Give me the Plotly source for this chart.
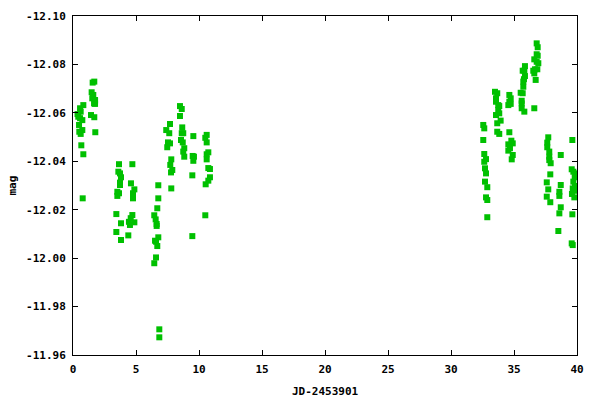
import plotly.graph_objects as go

# JD-2453901 values and magnitudes
jd = [
    0.82, 0.56, 0.61, 0.42, 0.56, 0.74, 0.50, 0.74, 0.61, 0.66, 0.82, 0.77, 0.36, 0.48,
    1.69, 1.56, 1.48, 1.61, 1.53, 1.75, 1.67, 1.75, 1.43, 1.69, 1.77, 1.59, 1.75,
    3.65, 4.71, 3.60, 3.73, 3.81, 3.73, 3.73, 4.60, 4.87, 3.52, 3.65, 3.52, 4.76, 4.76,
    3.44, 4.71, 4.58, 4.44, 4.87, 4.52, 3.81, 3.44, 4.39, 3.81,
    6.85, 6.85, 6.59, 6.45, 6.59, 6.69, 6.51, 6.77, 6.45, 6.56, 6.64, 6.64, 6.69, 6.77, 6.77,
    7.70, 7.40, 7.64, 7.54, 7.70, 7.48, 7.80, 7.72, 7.88, 7.78, 7.80,
    8.49, 8.63, 8.49, 8.67, 8.63, 8.75, 8.57, 8.71, 8.83, 8.75, 8.83,
    9.55, 9.50, 9.60, 9.55, 9.47, 9.47,
    10.61, 10.50, 10.61, 10.74, 10.61, 10.61, 10.74, 10.87, 10.87, 10.74, 10.53, 10.50,
    32.56, 32.64, 32.56, 32.64, 32.78, 32.64, 32.70, 32.78, 32.70, 32.88, 32.78, 32.88, 32.88,
    33.49, 33.67, 33.57, 33.57, 33.75, 33.83, 33.75, 33.57, 33.83, 33.94, 33.67, 33.67, 33.83,
    34.63, 34.74, 34.63, 34.55, 34.74, 34.63, 34.79, 34.90, 34.55, 34.68, 34.55, 34.90, 34.82,
    35.74, 35.74, 35.53, 35.69, 35.61, 35.61, 35.61, 35.82, 35.87, 35.82, 35.69, 35.87, 35.79,
    36.80, 36.88, 36.80, 36.88, 36.61, 36.80, 36.93, 36.67, 36.85, 36.53, 36.61, 36.72, 36.61,
    37.72, 37.64, 37.64, 37.80, 37.80, 37.80, 37.91, 37.88, 37.60, 37.72, 37.60, 37.88,
    38.71, 38.71, 38.60, 38.60, 38.71, 38.60, 38.52,
    39.63, 39.58, 39.71, 39.87, 39.82, 39.71, 39.84, 39.66, 39.79, 39.60, 39.79, 39.63, 39.58, 39.66,
]
mag = [
    -12.0632, -12.0619, -12.0605, -12.0584, -12.0578, -12.0570, -12.0522, -12.0529, -12.0513, -12.0466, -12.0429, -12.0247, -12.0595, -12.0550,
    -12.0729, -12.0725, -12.0685, -12.0674, -12.0660, -12.0653, -12.0639, -12.0637, -12.0591, -12.0582, -12.0520, -12.0665, -12.0649,
    -12.0388, -12.0388, -12.0357, -12.0350, -12.0334, -12.0312, -12.0302, -12.0309, -12.0284, -12.0274, -12.0268, -12.0257, -12.0268, -12.0247,
    -12.0182, -12.0178, -12.0165, -12.0150, -12.0148, -12.0137, -12.0144, -12.0108, -12.0094, -12.0075,
    -11.9706, -11.9673, -12.0003, -11.9979, -12.0068, -12.0050, -12.0072, -12.0086, -12.0177, -12.0160, -12.0141, -12.0133, -12.0206, -12.0247, -12.0301,
    -12.0554, -12.0529, -12.0516, -12.0478, -12.0474, -12.0458, -12.0408, -12.0385, -12.0364, -12.0354, -12.0288,
    -12.0628, -12.0616, -12.0587, -12.0540, -12.0516, -12.0516, -12.0488, -12.0478, -12.0454, -12.0440, -12.0419,
    -12.0504, -12.0422, -12.0419, -12.0402, -12.0342, -12.0091,
    -12.0509, -12.0497, -12.0478, -12.0437, -12.0429, -12.0408, -12.0372, -12.0368, -12.0334, -12.0320, -12.0305, -12.0177,
    -12.0550, -12.0536, -12.0488, -12.0430, -12.0409, -12.0398, -12.0371, -12.0350, -12.0316, -12.0293, -12.0251, -12.0240, -12.0169,
    -12.0687, -12.0681, -12.0660, -12.0646, -12.0632, -12.0628, -12.0612, -12.0591, -12.0598, -12.0568, -12.0557, -12.0522, -12.0513,
    -12.0674, -12.0660, -12.0646, -12.0632, -12.0637, -12.0520, -12.0485, -12.0474, -12.0470, -12.0454, -12.0444, -12.0426, -12.0408,
    -12.0729, -12.0708, -12.0683, -12.0681, -12.0650, -12.0639, -12.0619, -12.0605, -12.0793, -12.0774, -12.0774, -12.0752, -12.0739,
    -12.0887, -12.0871, -12.0842, -12.0836, -12.0821, -12.0811, -12.0805, -12.0780, -12.0780, -12.0774, -12.0763, -12.0736, -12.0619,
    -12.0499, -12.0477, -12.0458, -12.0440, -12.0419, -12.0405, -12.0392, -12.0346, -12.0313, -12.0284, -12.0254, -12.0231,
    -12.0426, -12.0302, -12.0274, -12.0257, -12.0210, -12.0185, -12.0112,
    -12.0488, -12.0367, -12.0357, -12.0350, -12.0334, -12.0316, -12.0298, -12.0288, -12.0278, -12.0265, -12.0251, -12.0181, -12.0061, -12.0054,
]

x_ticks = [0, 5, 10, 15, 20, 25, 30, 35, 40]
y_ticks = [-12.10, -12.08, -12.06, -12.04, -12.02, -12.00, -11.98, -11.96]
y_tick_text = ["-12.10", "-12.08", "-12.06", "-12.04", "-12.02", "-12.00", "-11.98", "-11.96"]
x_title = "JD-2453901"
y_title = "mag"

font = dict(family="DejaVu Sans Mono", size=11, color="black", weight="bold")

fig = go.Figure(
    go.Scatter(
        x=jd, y=mag, mode="markers",
        marker=dict(symbol="square", size=6, color="#00c000", line=dict(width=0)),
        showlegend=False, hoverinfo="skip",
    )
)

axis_common = dict(
    showline=True, linecolor="black", linewidth=1, mirror="allticks",
    ticks="inside", ticklen=5, tickcolor="black", tickwidth=1,
    showgrid=False, zeroline=False, tickfont=font, automargin=False,
    ticklabelstandoff=4,
)

fig.update_layout(
    width=600, height=400,
    margin=dict(l=73, r=23, t=16, b=45),
    paper_bgcolor="white", plot_bgcolor="white",
    xaxis=dict(range=[0, 40], tickvals=x_ticks, ticktext=[str(v) for v in x_ticks], **axis_common),
    yaxis=dict(range=[-11.96, -12.10], tickvals=y_ticks, ticktext=y_tick_text, **axis_common),
    annotations=[
        dict(text=x_title, xref="paper", yref="paper", x=0.5, y=0, xanchor="center",
             yanchor="middle", yshift=-36, showarrow=False, font=font),
        dict(text=y_title, xref="paper", yref="paper", x=0, y=0.5, xanchor="center",
             yanchor="middle", xshift=-61, textangle=-90, showarrow=False, font=font),
    ],
)

fig.write_html("out.html", config={"displayModeBar": False})

# remove the browser's default body margin so the figure sits at the page origin
with open("out.html", encoding="utf-8") as f:
    html = f.read()
html = html.replace("<body>", '<body style="margin:0">', 1)
with open("out.html", "w", encoding="utf-8") as f:
    f.write(html)
